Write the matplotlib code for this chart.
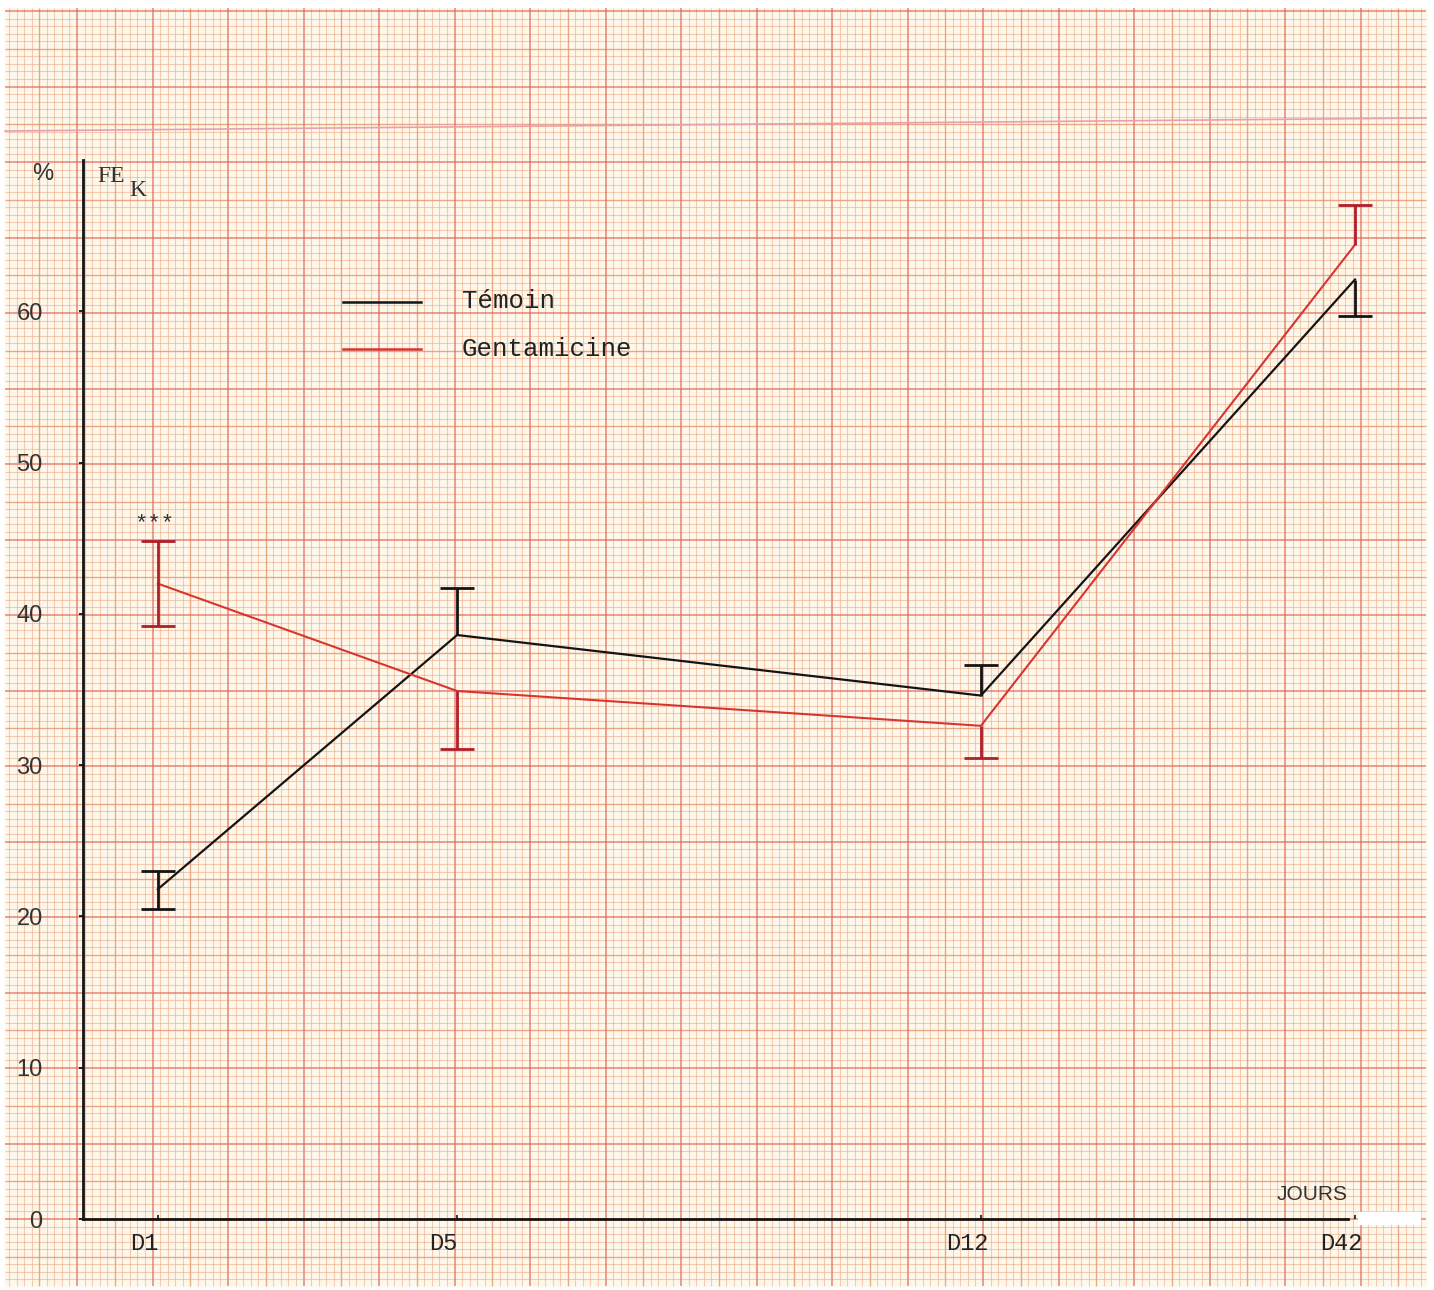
import numpy as np
import matplotlib
matplotlib.use("Agg")
import matplotlib.pyplot as plt
from matplotlib.collections import LineCollection
from matplotlib.lines import Line2D
from matplotlib.patches import Rectangle
from matplotlib.transforms import ScaledTranslation

# ---------------- data ----------------
day_labels = ["D1", "D5", "D12", "D42"]
x_pos = [1, 5, 12, 17]          # day scale, D42 drawn after an axis break
temoin = [21.8, 38.6, 34.6, 62.1]
temoin_up = [1.2, 3.1, 2.0, 0.0]
temoin_lo = [1.3, 0.0, 0.0, 2.4]
genta = [42.0, 34.9, 32.6, 64.4]
genta_up = [2.8, 0.0, 0.0, 2.6]
genta_lo = [2.8, 3.8, 2.1, 0.0]
y_ticks = [0, 10, 20, 30, 40, 50, 60]

W, H = 1434, 1290
fig = plt.figure(figsize=(W / 100, H / 100), dpi=100)
fig.patch.set_facecolor("white")

# ---------------- graph paper background ----------------
bg = fig.add_axes([0, 0, 1, 1])
bg.set_xlim(0, W)
bg.set_ylim(H, 0)
bg.axis("off")
x0p, x1p, y0p, y1p = 5, 1426, 8, 1286
bg.add_patch(Rectangle((x0p, y0p), x1p - x0p, y1p - y0p, color="#fef8ec", zorder=0))

step = 151.0 / 20
def grid_lines(origin, lo, hi):
    k0 = int(np.floor((lo - origin) / step))
    k1 = int(np.ceil((hi - origin) / step))
    out = []
    for k in range(k0, k1 + 1):
        p = origin + k * step
        if lo <= p <= hi:
            out.append((p, k))
    return out

fine, med, maj = [], [], []
def sort_seg(seg, k):
    if k % 10 == 0:
        maj.append(seg)
    elif k % 5 == 0:
        med.append(seg)
    else:
        fine.append(seg)
for p, k in grid_lines(77, x0p, x1p):
    sort_seg([(p, y0p), (p, y1p)], k)
for p, k in grid_lines(1219 - 75.5, y0p, y1p):
    sort_seg([(x0p, p), (x1p, p)], k)
bg.add_collection(LineCollection(fine, colors="#eeae86", linewidths=0.8, alpha=0.6, zorder=1))
bg.add_collection(LineCollection(med, colors="#e6946a", linewidths=1.0, alpha=0.8, zorder=1))
bg.add_collection(LineCollection(maj, colors="#e06858", linewidths=1.1, alpha=0.8, zorder=1))
# join of the two sheets
bg.plot([x0p, x1p], [131, 118], color="#e7a0b0", lw=1.2, zorder=2)
# white-out patch at end of x axis
bg.add_patch(Rectangle((1358, 1212), 62, 12, color="white", zorder=3))

# ---------------- data axes ----------------
ax = fig.add_axes([83 / W, (H - 1219) / H, 1272 / W, 1059 / H])
ax.patch.set_alpha(0)
ax.set_xlim(0, 17)
ax.set_ylim(0, 70)
for s in ["top", "right"]:
    ax.spines[s].set_visible(False)
for s in ["left", "bottom"]:
    ax.spines[s].set_color("#151515")
    ax.spines[s].set_linewidth(2.0)
ax.spines["bottom"].set_bounds(0, 16.9)

ax.set_xticks(x_pos)
ax.set_xticklabels(day_labels, family="Liberation Mono", fontsize=17, color="#222222")
ax.tick_params(axis="x", direction="in", length=3, width=1.2, pad=9, colors="#151515")
shift = ScaledTranslation(-14 / 100, 0, fig.dpi_scale_trans)
for lab in ax.get_xticklabels():
    lab.set_transform(lab.get_transform() + shift)
    lab.set_color("#222222")
ax.set_yticks(y_ticks)
ax.set_yticklabels([str(v) for v in y_ticks], family="Liberation Sans", fontsize=17, color="#333333")
ax.tick_params(axis="y", direction="out", length=3, width=1.2, pad=26)

black = "#141414"
red = "#d83530"
dark_red = "#b01e2a"

ax.plot(x_pos, temoin, color=black, lw=1.6, zorder=5, clip_on=False)
ax.plot(x_pos, genta, color=red, lw=1.5, zorder=5, clip_on=False)

def draw_err(ys, up, lo, col):
    ys, up, lo = np.array(ys), np.array(up), np.array(lo)
    xs = np.array(x_pos, dtype=float)
    ax.vlines(xs, ys - lo, ys + up, color=col, lw=2.0, zorder=6, clip_on=False)
    m_up = up > 0
    m_lo = lo > 0
    ax.plot(xs[m_up], (ys + up)[m_up], ls="none", marker="_", ms=24, mew=2.0,
            color=col, zorder=6, clip_on=False)
    ax.plot(xs[m_lo], (ys - lo)[m_lo], ls="none", marker="_", ms=24, mew=2.0,
            color=col, zorder=6, clip_on=False)

draw_err(temoin, temoin_up, temoin_lo, black)
draw_err(genta, genta_up, genta_lo, dark_red)

# ---------------- annotations ----------------
bg.text(43, 174, "%", family="Liberation Sans", fontsize=17, color="#333333",
        ha="center", va="center", zorder=7)
bg.text(97, 177, "FE", family="Liberation Serif", fontsize=17, color="#333333",
        ha="left", va="center", zorder=7)
bg.text(129, 191, "K", family="Liberation Serif", fontsize=17, color="#333333",
        ha="left", va="center", zorder=7)
bg.text(154, 524, "***", family="Liberation Mono", fontsize=16, color="#333333",
        ha="center", va="center", zorder=7)
bg.text(1312, 1194, "JOURS", family="Liberation Sans", fontsize=15, color="#333333",
        ha="center", va="center", zorder=7)

# legend
bg.add_line(Line2D([343, 421], [302, 302], color=black, lw=1.8, zorder=7))
bg.add_line(Line2D([343, 421], [349, 349], color=red, lw=1.8, zorder=7))
bg.text(462, 301, "Témoin", family="Liberation Mono", fontsize=18.5, color="#222222",
        ha="left", va="center", zorder=7)
bg.text(462, 349, "Gentamicine", family="Liberation Mono", fontsize=18.5, color="#222222",
        ha="left", va="center", zorder=7)

fig.savefig("out.png", dpi=100)
